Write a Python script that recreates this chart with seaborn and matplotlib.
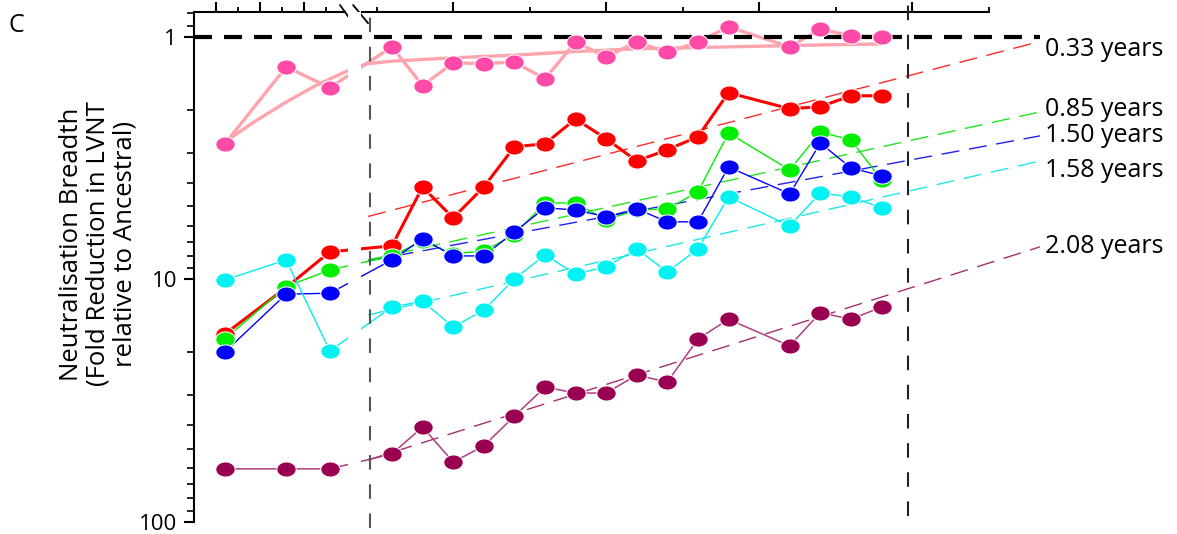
import numpy as np
import matplotlib.pyplot as plt
from matplotlib.ticker import NullFormatter
import seaborn as sns

# sampling positions: three before the axis break, then the regular block
timepoints = [-2.46, -0.46, 0.97, 3, 4, 5, 6, 7, 8, 9, 10, 11, 12, 13, 14, 16, 17, 18, 19]

# fold reduction in LVNT relative to ancestral
pink = [2.76, 1.33, 1.62, 1.10, 1.59, 1.28, 1.29, 1.27, 1.49, 1.05, 1.21, 1.05,
        1.16, 1.05, 0.91, 1.10, 0.93, 0.99, 1.00]
red = [16.8, 10.8, 7.70, 7.27, 4.16, 5.58, 4.16, 2.84, 2.76, 2.18, 2.63, 3.25,
       2.92, 2.58, 1.70, 1.98, 1.94, 1.75, 1.75]
green = [17.6, 10.7, 9.14, 8.00, 6.94, 7.85, 7.63, 6.55, 4.84, 4.84, 5.68, 5.17,
         5.12, 4.36, 2.49, 3.54, 2.47, 2.66, 3.89]
blue = [19.9, 11.5, 11.4, 8.31, 6.81, 8.00, 8.00, 6.37, 5.07, 5.17, 5.52, 5.12,
        5.79, 5.79, 3.44, 4.44, 2.74, 3.47, 3.74]
cyan = [10.05, 8.31, 19.7, 13.0, 12.3, 15.7, 13.4, 9.95, 7.93, 9.49, 8.88, 7.49,
        9.31, 7.49, 4.57, 6.02, 4.40, 4.57, 5.07]
purple = [60.4, 60.4, 60.4, 52.4, 40.6, 56.6, 48.6, 36.6, 27.8, 29.4, 29.4, 24.8,
          26.5, 17.6, 14.6, 18.8, 13.7, 14.6, 13.0]

# fitted curve through the pink series
pink_fit_x = [-2.46, -1.5, -0.5, 0.5, 1.5, 2.2, 3, 5, 7, 9, 11, 14, 17, 19]
pink_fit_y = [2.71, 2.24, 1.87, 1.59, 1.39, 1.29, 1.26, 1.22, 1.19, 1.15, 1.12,
              1.10, 1.08, 1.07]

# log-linear trends (value at start / end of the dashed line) and half-lives
trend_start = [5.50, 8.31, 8.39, 14.0, 55.5]
trend_end = [1.045, 2.04, 2.56, 3.25, 7.34]
half_lives = ["0.33 years", "0.85 years", "1.50 years", "1.58 years", "2.08 years"]

sns.set_style("ticks")
plt.rcParams["font.family"] = ["Open Sans", "DejaVu Sans"]
plt.rcParams["text.color"] = "black"
plt.rcParams["ytick.color"] = "black"
plt.rcParams["xtick.color"] = "black"
plt.rcParams["axes.edgecolor"] = "black"

fig = plt.figure(figsize=(11.77, 5.34), dpi=100)
ax = fig.add_axes([194 / 1177, 12 / 534, 846 / 1177, 510 / 534])
ax.set_yscale("log")

# oval dot, a bit wider than tall
t = np.linspace(0, 2 * np.pi, 41)
oval = list(zip(np.cos(t), 0.78 * np.sin(t)))

series = [
    (pink, "#ffa3ad", "#ff4aa8", 2.4),
    (red, "#ff0000", "#ff0000", 2.2),
    (green, "#00ee00", "#00ee00", 1.0),
    (blue, "#0000ff", "#0000ff", 1.0),
    (cyan, "#00eeee", "#00f2f2", 1.0),
    (purple, "#b03c80", "#9a0052", 1.1),
]

sns.lineplot(x=pink_fit_x, y=pink_fit_y, color="#ffa3ad", lw=2.4, ax=ax, zorder=2)
for vals, lc, dc, lw in series:
    sns.lineplot(x=timepoints, y=vals, color=lc, lw=lw, ax=ax, zorder=2)
    sns.lineplot(x=timepoints, y=vals, color=dc, lw=0, marker=oval, ms=14,
                 ax=ax, zorder=4)

trend_colors = ["#ff2a2a", "#22e622", "#2020ee", "#22e6e6", "#a2306e"]
for c, y0, y1 in zip(trend_colors, trend_start, trend_end):
    sns.lineplot(x=[2.22, 24.18], y=[y0, y1], color=c, lw=1.0,
                 linestyle=(0, (13, 7)), ax=ax, zorder=1.5)

# axis break gap
ax.axvspan(1.56, 1.99, color="white", lw=0, zorder=2.5)

ax.axhline(1, color="black", lw=3, dashes=(4.3, 2.9), zorder=3)
ax.axvline(2.28, ymin=-0.012, ymax=1.0, color="#555555", lw=1.5,
           dashes=(7, 7), clip_on=False, zorder=3)
ax.axvline(19.86, ymin=0.012, ymax=1.026, color="#222222", lw=1.5,
           dashes=(7, 7), clip_on=False, zorder=3)

label_y = [1.13, 2.0, 2.54, 3.54, 7.34]
for lab, yy in zip(half_lives, label_y):
    ax.text(24.34, yy, lab, ha="left", va="center", fontsize=18, clip_on=False)

ax.set_xlim(-3.47, 24.18)
ax.set_ylim(100, 0.79)

for s in ["top", "right", "bottom"]:
    ax.spines[s].set_visible(False)
ax.spines["left"].set_linewidth(1.5)

# broken top axis
xt = ax.get_xaxis_transform()
ax.plot([-3.47, 1.50], [1, 1], transform=xt, color="black", lw=1.5,
        clip_on=False, solid_capstyle="butt")
ax.plot([1.99, 22.54], [1, 1], transform=xt, color="black", lw=1.5,
        clip_on=False, solid_capstyle="butt")
ax.plot([1.30, 1.73], [1.0137, 0.978], transform=xt, color="black", lw=1.3,
        clip_on=False)
ax.plot([1.73, 2.22], [1.0137, 0.978], transform=xt, color="black", lw=1.3,
        clip_on=False)

ax.xaxis.set_ticks_position("top")
ax.set_xticks([-2.75, -1.31, 0.12, 5, 10, 15, 20])
ax.set_xticks([-2.03, -0.59, 0.84, 2.5, 7.5, 12.5, 17.5, 22.5], minor=True)
ax.tick_params(axis="x", which="both", labeltop=False, labelbottom=False,
               direction="out")
ax.tick_params(axis="x", which="major", length=7.2, width=1.5)
ax.tick_params(axis="x", which="minor", length=3.6, width=1.3)

ax.set_yticks([1, 10, 100], labels=["1", "10", "100"])
ax.yaxis.set_minor_formatter(NullFormatter())
ax.tick_params(axis="y", which="major", length=7.2, width=1.5, labelsize=16, pad=5)
ax.tick_params(axis="y", which="minor", length=5, width=1.2)
ax.set_ylim(100, 0.79)
ax.set_xlabel("")
ax.set_ylabel("")

fig.text(98 / 1177, 1 - 244 / 534,
         "Neutralisation Breadth\n(Fold Reduction in LVNT\nrelative to Ancestral)",
         rotation=90, ha="center", va="center", multialignment="center",
         fontsize=18.5, linespacing=1.08)
fig.text(16 / 1177, 1 - 25 / 534, "C", ha="center", va="center", fontsize=18)

fig.savefig("out.png", dpi=100)
